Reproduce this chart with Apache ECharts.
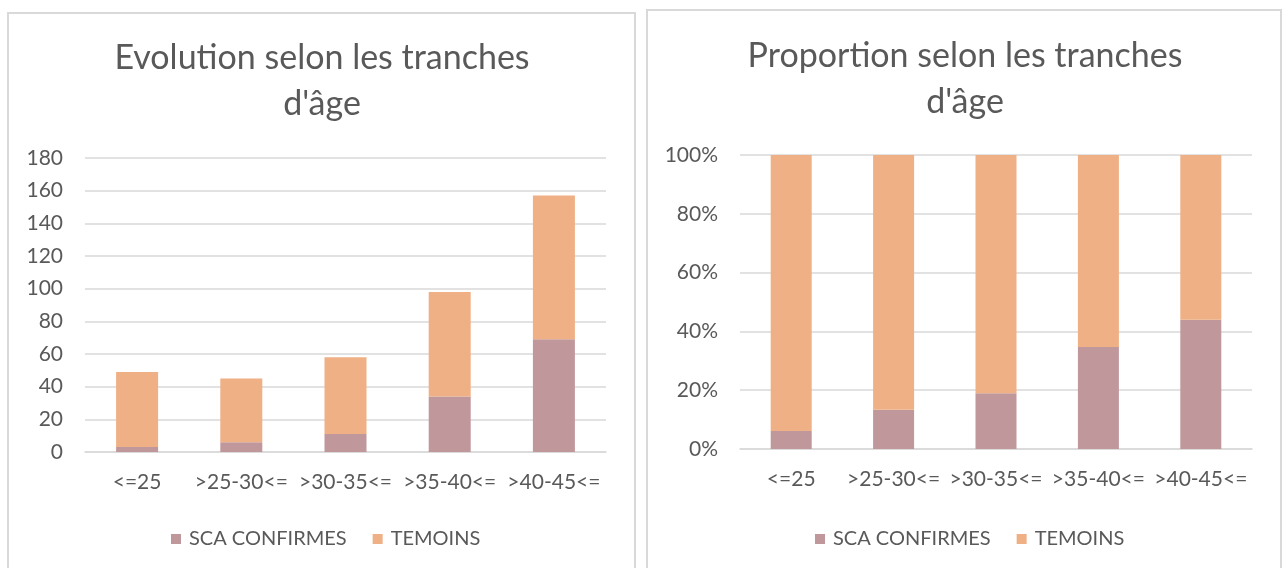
<!DOCTYPE html>
<html>
<head>
<meta charset="utf-8">
<script src="https://cdn.jsdelivr.net/npm/echarts@6/dist/echarts.min.js"></script>
<style>
    html, body { margin: 0; padding: 0; background: #fff; }
    #main { width: 1282px; height: 568px; }
</style>
</head>
<body>
<div id="main"></div>
<script>
    // tranches d'age
    var categories = ['<=25', '>25-30<=', '>30-35<=', '>35-40<=', '>40-45<='];
    var scaConfirmes = [3, 6, 11, 34, 69];
    var temoins = [46, 39, 47, 64, 88];

    var leftTicks = { min: 0, max: 180, interval: 20 };
    var rightTicks = { min: 0, max: 100, interval: 20 };

    // proportions pour le graphique 100% empile
    var scaPct = [], temPct = [];
    for (var i = 0; i < categories.length; i++) {
        var tot = scaConfirmes[i] + temoins[i];
        scaPct[i] = scaConfirmes[i] / tot * 100;
        temPct[i] = temoins[i] / tot * 100;
    }

    var colSca = '#c0979b';
    var colTem = '#efb085';
    var txt = '#595959';
    var lineCol = '#d9d9d9';
    var font = 'Lato';

    var chart = echarts.init(document.getElementById('main'));

    function yAxis(idx, t, fmt) {
        return {
            type: 'value', gridIndex: idx,
            min: t.min, max: t.max, interval: t.interval,
            axisLine: { show: false },
            axisTick: { show: false },
            axisLabel: { color: txt, fontSize: 21, fontFamily: font, margin: 22, formatter: fmt },
            splitLine: { lineStyle: { color: lineCol, width: 1.5 } }
        };
    }
    function xAxis(idx) {
        return {
            type: 'category', gridIndex: idx, data: categories,
            axisLine: { lineStyle: { color: lineCol, width: 1.5 } },
            axisTick: { show: false },
            axisLabel: { color: txt, fontSize: 21, fontFamily: font, margin: 20, interval: 0 }
        };
    }
    function legend(x) {
        return {
            left: x, top: 524,
            itemWidth: 10, itemHeight: 10, itemGap: 26,
            icon: 'rect',
            textStyle: { color: txt, fontSize: 20, fontFamily: font, padding: [0, 0, 0, 3] },
            data: ['SCA CONFIRMES', 'TEMOINS']
        };
    }

    var option = {
        animation: false,
        backgroundColor: '#fff',
        graphic: [
            { type: 'rect', shape: { x: 8, y: 13, width: 627, height: 580 }, style: { fill: 'none', stroke: lineCol, lineWidth: 2 } },
            { type: 'rect', shape: { x: 647, y: 10, width: 634, height: 580 }, style: { fill: 'none', stroke: lineCol, lineWidth: 2 } }
        ],
        title: [
            {
                text: 'Evolution selon les tranches\nd\'âge',
                left: 322, top: 35, textAlign: 'center', padding: 0,
                textStyle: { color: txt, fontSize: 34, fontWeight: 'normal', fontFamily: font, lineHeight: 46 }
            },
            {
                text: 'Proportion selon les tranches\nd\'âge',
                left: 965, top: 33, textAlign: 'center', padding: 0,
                textStyle: { color: txt, fontSize: 34, fontWeight: 'normal', fontFamily: font, lineHeight: 46 }
            }
        ],
        legend: [legend(166), legend(810)],
        grid: [
            { left: 85, right: 676, top: 158, bottom: 116 },
            { left: 740, right: 30, top: 155, bottom: 119 }
        ],
        xAxis: [xAxis(0), xAxis(1)],
        yAxis: [
            yAxis(0, leftTicks),
            yAxis(1, rightTicks, '{value}%')
        ],
        series: [
            { name: 'SCA CONFIRMES', type: 'bar', stack: 'a', xAxisIndex: 0, yAxisIndex: 0, barWidth: 42, itemStyle: { color: colSca }, data: scaConfirmes },
            { name: 'TEMOINS', type: 'bar', stack: 'a', xAxisIndex: 0, yAxisIndex: 0, barWidth: 42, itemStyle: { color: colTem }, data: temoins },
            { name: 'SCA CONFIRMES', type: 'bar', stack: 'b', xAxisIndex: 1, yAxisIndex: 1, barWidth: 41, itemStyle: { color: colSca }, data: scaPct },
            { name: 'TEMOINS', type: 'bar', stack: 'b', xAxisIndex: 1, yAxisIndex: 1, barWidth: 41, itemStyle: { color: colTem }, data: temPct }
        ]
    };

    chart.setOption(option);
</script>
</body>
</html>
